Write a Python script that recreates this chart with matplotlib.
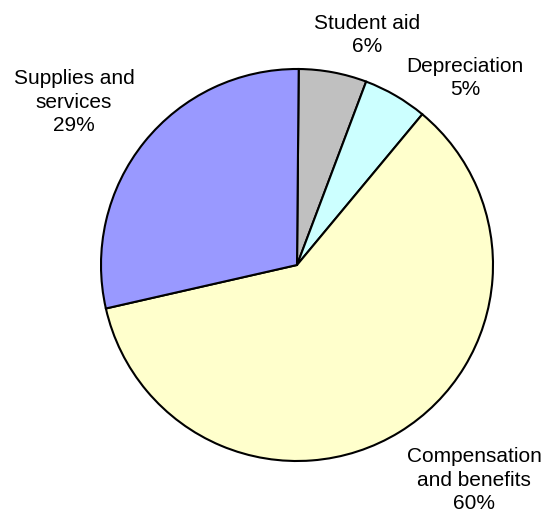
import matplotlib.pyplot as plt

# slices, clockwise from the top
names = ["Student aid", "Depreciation", "Compensation\nand benefits", "Supplies and\nservices"]
values = [5.6, 5.3, 60.4, 28.7]
colors = ["#C0C0C0", "#CCFFFF", "#FFFFCC", "#9999FF"]

# label centres in pixel coords (x, y from top)
label_pos = [(367, 35), (465, 78), (474, 480), (74, 102)]

W, H = 547, 517
fig = plt.figure(figsize=(W / 100, H / 100), dpi=100)
ax = fig.add_axes([0, 0, 1, 1])

ax.pie(values, colors=colors, startangle=89.5, counterclock=False,
       center=(297, H - 265), radius=196,
       wedgeprops=dict(edgecolor="black", linewidth=1.5))

total = sum(values)
for name, v, (x, y) in zip(names, values, label_pos):
    ax.text(x, H - y, f"{name}\n{v / total * 100:.0f}%", ha="center", va="center",
            fontsize=15, family="Liberation Sans", linespacing=1.32)

ax.set_xlim(0, W)
ax.set_ylim(0, H)
ax.set_aspect("equal")
ax.axis("off")

fig.savefig("out.png", dpi=100)
